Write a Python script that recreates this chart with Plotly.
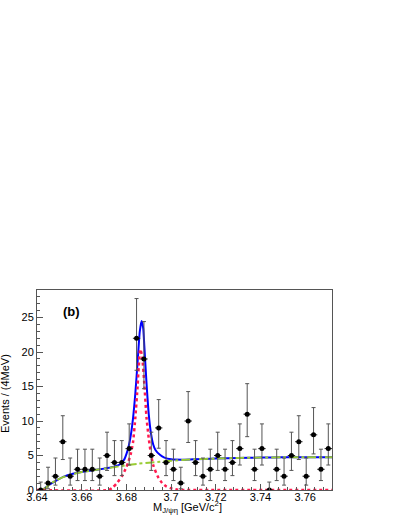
import plotly.graph_objects as go

# ---- data ----
bin_lo = 3.64
bin_width = 0.0033
counts = [0, 1, 2, 7, 2, 3, 3, 3, 2, 5,
          4, 4, 6, 22, 19, 5, 9, 4, 3, 1,
          10, 4, 2, 3, 5, 3, 4, 6, 11, 3,
          6, 0, 3, 2, 5, 7, 2, 8, 3, 6]
bin_centers = [bin_lo + bin_width * (i + 0.5) for i in range(len(counts))]

# Poisson (Garwood-style) interval bounds per count, as drawn
err_low_bound = {0: 0.0, 1: 0.173, 2: 0.708, 3: 1.367, 4: 2.086, 5: 2.840, 6: 3.620,
                 7: 4.419, 8: 5.232, 9: 6.057, 10: 6.891, 11: 7.734, 19: 14.69, 22: 17.36}
err_up_bound = {0: 1.15, 1: 3.300, 2: 4.638, 3: 5.918, 4: 7.163, 5: 8.382, 6: 9.584,
                7: 10.77, 8: 11.95, 9: 13.11, 10: 14.27, 11: 15.42, 19: 24.42, 22: 27.76}

# total fit (blue)
total_x = [3.6425, 3.6435, 3.645, 3.648, 3.652, 3.656, 3.66, 3.665, 3.67, 3.674,
           3.677, 3.679, 3.680, 3.681, 3.682, 3.683, 3.684, 3.685, 3.686, 3.6868,
           3.6875, 3.688, 3.689, 3.690, 3.691, 3.692, 3.693, 3.695, 3.697, 3.700,
           3.705, 3.71, 3.72, 3.73, 3.74, 3.75, 3.76, 3.772]
total_y = [0.0, 0.25, 0.65, 1.25, 1.95, 2.35, 2.6, 2.85, 3.1, 3.35,
           3.7, 4.4, 5.2, 6.3, 8.0, 10.5, 14.0, 18.5, 23.0, 24.5,
           23.5, 21.0, 15.5, 11.0, 8.2, 6.6, 5.8, 5.1, 4.7, 4.45,
           4.4, 4.45, 4.55, 4.65, 4.7, 4.75, 4.75, 4.75]

# background (green dash-dot)
bkg_x = [3.6425, 3.644, 3.646, 3.648, 3.652, 3.656, 3.66, 3.665, 3.67, 3.675,
         3.68, 3.685, 3.69, 3.695, 3.70, 3.71, 3.72, 3.73, 3.74, 3.75, 3.76, 3.772]
bkg_y = [0.0, 0.35, 0.9, 1.3, 1.9, 2.3, 2.6, 2.85, 3.1, 3.35,
         3.6, 3.8, 3.95, 4.1, 4.25, 4.45, 4.55, 4.65, 4.7, 4.75, 4.75, 4.75]

# signal (red dotted)
sig_x = [3.64, 3.672, 3.674, 3.676, 3.678, 3.680, 3.681, 3.682, 3.683, 3.684,
         3.685, 3.6855, 3.6862, 3.687, 3.688, 3.689, 3.690, 3.691, 3.692, 3.694,
         3.696, 3.698, 3.700, 3.703, 3.706, 3.772]
sig_y = [0.0, 0.0, 0.4, 1.1, 2.0, 3.3, 4.2, 5.3, 7.0, 10.5,
         15.0, 17.8, 20.4, 19.5, 15.5, 10.5, 7.5, 5.2, 3.6, 2.0,
         1.0, 0.5, 0.25, 0.05, 0.0, 0.0]

x_tickvals = [3.64, 3.66, 3.68, 3.70, 3.72, 3.74, 3.76]
x_ticktext = ["3.64", "3.66", "3.68", "3.7", "3.72", "3.74", "3.76"]
y_tickvals = [0, 5, 10, 15, 20, 25]
y_ticktext = ["0", "5", "10", "15", "20", "25"]

x_range = [3.64, 3.772]
y_range = [0, 29]

# ---- figure ----
err_plus = [err_up_bound[c] - c for c in counts]
err_minus = [c - err_low_bound[c] for c in counts]

fig = go.Figure()
fig.add_trace(go.Scatter(x=total_x, y=total_y, mode="lines",
                         line=dict(color="#0000ff", width=2, shape="spline", smoothing=0.6),
                         hoverinfo="skip"))
fig.add_trace(go.Scatter(x=bkg_x, y=bkg_y, mode="lines",
                         line=dict(color="#99cc33", width=2, dash="dashdot", shape="spline", smoothing=0.6),
                         hoverinfo="skip"))
fig.add_trace(go.Scatter(x=sig_x, y=sig_y, mode="lines",
                         line=dict(color="#ff1a4d", width=2.5, dash="dot", shape="spline", smoothing=0.5),
                         hoverinfo="skip"))
fig.add_trace(go.Scatter(x=bin_centers, y=counts, mode="markers",
                         marker=dict(color="black", size=5),
                         error_y=dict(type="data", symmetric=False, array=err_plus,
                                      arrayminus=err_minus, color="#555555", thickness=1, width=2),
                         error_x=dict(type="constant", value=bin_width / 2, color="#222222",
                                      thickness=1, width=0)))

axis_font = dict(family="Liberation Sans, Arial, sans-serif", size=11, color="black")

fig.update_layout(
    template="none",
    width=399, height=516,
    margin=dict(l=37, r=67, t=290, b=26, autoexpand=False),
    paper_bgcolor="white", plot_bgcolor="white",
    showlegend=False,
    font=axis_font,
    xaxis=dict(range=x_range, showgrid=False, zeroline=False, automargin=False,
               showline=True, linecolor="#555555", linewidth=1, mirror=True,
               ticks="inside", ticklen=6, tickcolor="#555555",
               tickvals=x_tickvals, ticktext=x_ticktext, tickfont=axis_font,
               ticklabelstandoff=-3,
               minor=dict(dtick=0.004, tick0=3.64, ticks="inside", ticklen=3, tickcolor="#555555")),
    yaxis=dict(range=y_range, showgrid=False, zeroline=False, automargin=False,
               showline=True, linecolor="#555555", linewidth=1, mirror=True,
               ticks="inside", ticklen=6, tickcolor="#555555",
               tickvals=y_tickvals, ticktext=y_ticktext, tickfont=axis_font,
               minor=dict(dtick=1, tick0=0, ticks="inside", ticklen=3, tickcolor="#555555")),
    annotations=[
        dict(text="(b)", xref="paper", yref="paper", x=(71.5 - 37) / 295, y=(490 - 311) / 200,
             xanchor="center", yanchor="middle",
             showarrow=False, font=dict(family="Liberation Sans, Arial, sans-serif", size=13,
                                        color="black", weight="bold")),
        dict(text="Events / (4MeV)", xref="paper", yref="paper", x=(5 - 37) / 295,
             y=(490 - 394) / 200, textangle=-90, xanchor="center", yanchor="middle",
             showarrow=False, font=axis_font),
        dict(text="M<sub>J/ψη</sub> [GeV/c<sup>2</sup>]", xref="paper", yref="paper",
             x=(187 - 37) / 295, y=(490 - 507) / 200, xanchor="center", yanchor="middle",
             showarrow=False, font=axis_font),
    ],
)

fig.write_html("out.html", config={"displayModeBar": False},
               post_script="document.body.style.margin='0';")
